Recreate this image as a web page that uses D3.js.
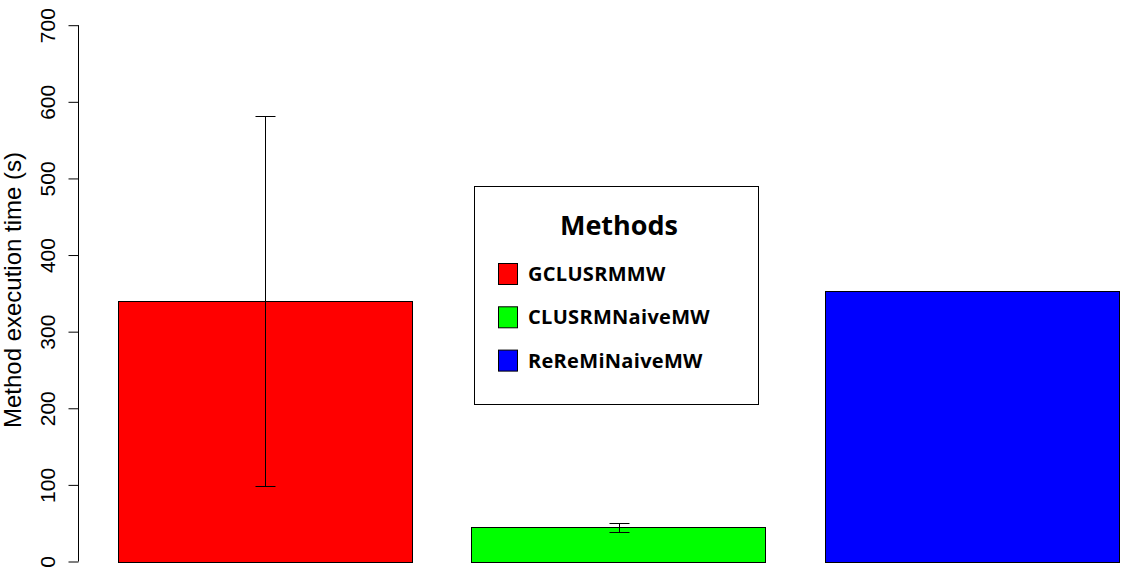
<!DOCTYPE html>
<html>
<head>
<meta charset="utf-8">
<script src="https://cdn.jsdelivr.net/npm/d3@7"></script>
<style>
  body { margin: 0; background: #fff; }
  svg { display: block; }
</style>
</head>
<body>
<svg width="1126" height="573"></svg>
<script>
var methods = ["GCLUSRMMW", "CLUSRMNaiveMW", "ReReMiNaiveMW"],
    meanTime = [340, 44.5, 353.5],
    errTime = [242, 6, 0],
    colors = ["#ff0000", "#00ff00", "#0000ff"],
    yTicks = [0, 100, 200, 300, 400, 500, 600, 700];

var svg = d3.select("svg");

var x = d3.scaleBand()
    .domain(methods)
    .range([118, 1119])
    .paddingInner(1 / 6)
    .paddingOuter(0);

var y = d3.scaleLinear()
    .domain([0, 700])
    .range([561.5, 25.2]);

// bars
svg.selectAll(".bar")
    .data(methods)
    .enter().append("rect")
    .attr("class", "bar")
    .attr("x", function(d) { return Math.round(x(d)) + 0.5; })
    .attr("width", function(d) { return Math.round(x.bandwidth()); })
    .attr("y", function(d, i) { return Math.round(y(meanTime[i])) + 0.5; })
    .attr("height", function(d, i) { return Math.round(y(0)) - Math.round(y(meanTime[i])); })
    .attr("fill", function(d, i) { return colors[i]; })
    .attr("stroke", "#000")
    .attr("stroke-width", 1);

// error bars
var eb = svg.selectAll(".err")
    .data(methods.filter(function(d, i) { return errTime[i] > 0; }))
    .enter().append("g")
    .attr("class", "err")
    .attr("stroke", "#000")
    .attr("stroke-width", 1);

eb.each(function(d) {
    var i = methods.indexOf(d),
        cx = Math.round(x(d) + x.bandwidth() / 2) + 0.5,
        hi = Math.round(y(meanTime[i] + errTime[i])) + 0.5,
        lo = Math.round(y(meanTime[i] - errTime[i])) + 0.5,
        g = d3.select(this);
    g.append("line").attr("x1", cx).attr("x2", cx).attr("y1", hi).attr("y2", lo);
    g.append("line").attr("x1", cx - 10).attr("x2", cx + 10).attr("y1", hi).attr("y2", hi);
    g.append("line").attr("x1", cx - 10).attr("x2", cx + 10).attr("y1", lo).attr("y2", lo);
});

// y axis
var yAxis = svg.append("g")
    .attr("transform", "translate(78.5,0)")
    .call(d3.axisLeft(y).tickValues(yTicks).tickSize(10).tickPadding(0).tickFormat(d3.format("d")));

yAxis.select(".domain")
    .attr("d", "M0," + y(0) + "V" + y(700))
    .attr("stroke", "#000");

yAxis.selectAll(".tick line").attr("stroke", "#000");

yAxis.selectAll(".tick text")
    .attr("transform", "rotate(-90)")
    .attr("x", 0)
    .attr("y", -31)
    .attr("dy", "0.35em")
    .attr("text-anchor", "middle")
    .style("font", "21px 'Liberation Sans', Arial, sans-serif")
    .attr("fill", "#000");

svg.append("text")
    .attr("transform", "translate(21,290) rotate(-90)")
    .attr("text-anchor", "middle")
    .style("font", "24px 'Liberation Sans', Arial, sans-serif")
    .attr("fill", "#000")
    .text("Method execution time (s)");

// legend
var legend = svg.append("g");

legend.append("rect")
    .attr("x", 474.5)
    .attr("y", 186.5)
    .attr("width", 284)
    .attr("height", 218)
    .attr("fill", "#fff")
    .attr("stroke", "#000");

legend.append("text")
    .attr("x", 619)
    .attr("y", 235)
    .attr("text-anchor", "middle")
    .style("font", "bold 27px 'Open Sans', 'Noto Sans', sans-serif")
    .attr("fill", "#000")
    .text("Methods");

var item = legend.selectAll(".item")
    .data(methods)
    .enter().append("g")
    .attr("class", "item")
    .attr("transform", function(d, i) { return "translate(0," + (263 + i * 43.3) + ")"; });

item.append("rect")
    .attr("x", 498.5)
    .attr("y", 0.5)
    .attr("width", 19)
    .attr("height", 21)
    .attr("fill", function(d, i) { return colors[i]; })
    .attr("stroke", "#000");

item.append("text")
    .attr("x", 528)
    .attr("y", 18)
    .style("font", "bold 20px 'Open Sans', 'Noto Sans', sans-serif")
    .style("letter-spacing", "0.3px")
    .attr("fill", "#000")
    .text(function(d) { return d; });
</script>
</body>
</html>
